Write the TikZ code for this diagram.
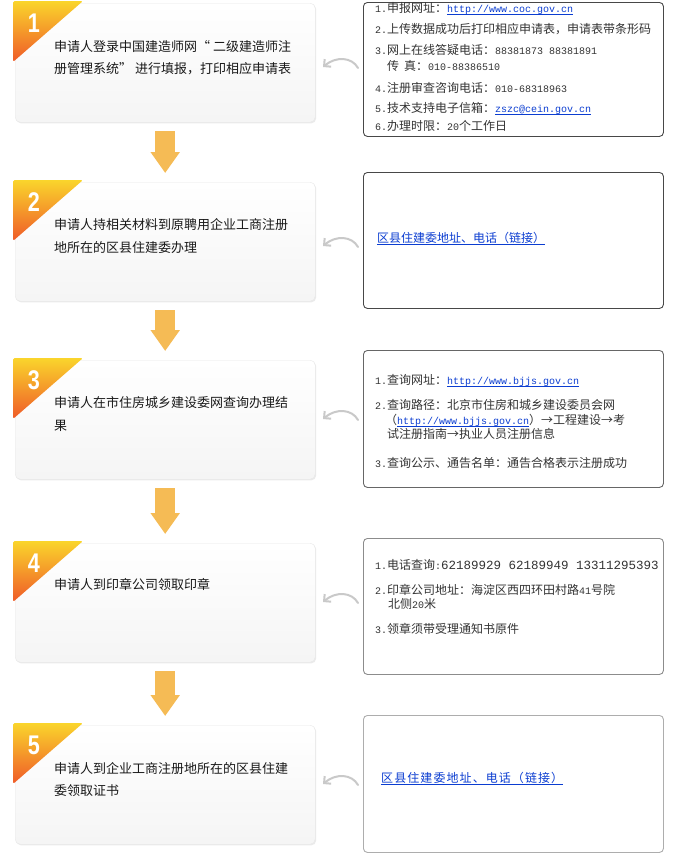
\documentclass[tikz,border=0pt]{standalone}
\usepackage{fontspec}
\setmainfont{Noto Sans CJK SC}
\setmonofont{Liberation Mono}
\newfontfamily\numfont{Liberation Sans}[FakeStretch=0.8]
\newfontfamily\cjkwide{Noto Sans CJK SC}[LetterSpace=9]
\usetikzlibrary{arrows.meta,shadows}
\definecolor{linkblue}{HTML}{0B3DD1}
\definecolor{txtgray}{HTML}{333333}
\definecolor{arrowor}{HTML}{F5BB55}
\definecolor{triTop}{HTML}{FAD52C}
\definecolor{triBot}{HTML}{EF5A28}
\definecolor{curvegray}{HTML}{C9C9C9}
\newcommand\m[1]{{\fontsize{10}{12}\ttfamily #1}}
\newcommand\myul[1]{\leavevmode\setbox0\hbox{#1}\rlap{\rule[-1.8pt]{\wd0}{0.7pt}}\box0}
\newcommand\lnk[1]{\textcolor{linkblue}{\myul{\m{#1}}}}
\newcommand\lnkc[1]{\textcolor{linkblue}{\myul{#1}}}
\tikzset{
  leftbox/.style={draw=gray!18, rounded corners=5pt, top color=white, bottom color=gray!8,
    minimum width=300pt, minimum height=119pt, anchor=north west, inner sep=0pt,
    drop shadow={shadow xshift=1pt, shadow yshift=-1.2pt, fill=gray!45, opacity=0.35}},
  tri/.style={top color=triTop, bottom color=triBot},
  numlbl/.style={text=white, font=\numfont\bfseries\fontsize{27}{27}\selectfont, inner sep=0pt},
  ltxt/.style={anchor=base west, inner sep=0pt, text=black!90, font=\fontsize{13}{15}\selectfont},
  rtxt/.style={anchor=base west, inner sep=0pt, text=txtgray, font=\fontsize{12}{14}\selectfont},
  rbox/.style={rounded corners=4pt, minimum width=300pt, anchor=north west, inner sep=0pt, fill=white, line width=0.9pt},
  dnarrow/.style={draw=arrowor, line width=20pt, -{Triangle[length=21pt,width=28pt]}},
  curvarrow/.style={draw=curvegray, line width=2pt, line cap=round, -{Straight Barb[length=5pt,width=10pt]}}
}
\begin{document}
\begin{tikzpicture}[x=1pt,y=-1pt]
\useasboundingbox[fill=white] (0,0) rectangle (680,855);

% ---------- left boxes ----------
\node[leftbox] (l1) at (15,3) {};
\node[leftbox] (l2) at (15,182) {};
\node[leftbox] (l3) at (15,360) {};
\node[leftbox] (l4) at (15,543) {};
\node[leftbox] (l5) at (15,725) {};

% triangles
\shade[tri, rounded corners=1.5pt] (13,1) -- (83,1) -- (13,62) -- cycle;
\shade[tri, rounded corners=1.5pt] (13,180) -- (83,180) -- (13,241) -- cycle;
\shade[tri, rounded corners=1.5pt] (13,358) -- (83,358) -- (13,419) -- cycle;
\shade[tri, rounded corners=1.5pt] (13,541) -- (83,541) -- (13,602) -- cycle;
\shade[tri, rounded corners=1.5pt] (13,723) -- (83,723) -- (13,784) -- cycle;

\node[numlbl] (n1) at (34,23) {1};
\node[numlbl] (n2) at (34,202) {2};
\node[numlbl] (n3) at (34,380) {3};
\node[numlbl] (n4) at (34,563) {4};
\node[numlbl] (n5) at (34,745) {5};

\node[ltxt] (t1a) at (54,51) {申请人登录中国建造师网“\hspace{3pt}二级建造师注};
\node[ltxt] (t1b) at (54,73) {册管理系统”\hspace{3pt}进行填报，打印相应申请表};
\node[ltxt] (t2a) at (54,229) {申请人持相关材料到原聘用企业工商注册};
\node[ltxt] (t2b) at (54,252) {地所在的区县住建委办理};
\node[ltxt] (t3a) at (54,407) {申请人在市住房城乡建设委网查询办理结};
\node[ltxt] (t3b) at (54,430) {果};
\node[ltxt] (t4a) at (54,589) {申请人到印章公司领取印章};
\node[ltxt] (t5a) at (54,773) {申请人到企业工商注册地所在的区县住建};
\node[ltxt] (t5b) at (54,795) {委领取证书};

% ---------- down arrows ----------
\draw[dnarrow] ([yshift=-9pt]l1.south) -- ([yshift=9pt]l2.north);
\draw[dnarrow] ([yshift=-9pt]l2.south) -- ([yshift=9pt]l3.north);
\draw[dnarrow] ([yshift=-9pt]l3.south) -- ([yshift=9pt]l4.north);
\draw[dnarrow] ([yshift=-9pt]l4.south) -- ([yshift=9pt]l5.north);

% ---------- right boxes ----------
\node[rbox, draw=black!72, minimum height=134pt] (r1) at (363,2) {};
\node[rbox, draw=black!72, minimum height=136pt] (r2) at (363,172) {};
\node[rbox, draw=black!60, minimum height=137pt] (r3) at (363,350) {};
\node[rbox, draw=black!45, minimum height=136pt] (r4) at (363,538) {};
\node[rbox, draw=black!32, minimum height=137pt] (r5) at (363,715) {};

% R1
\node[rtxt] (r1a) at (375,12.5) {\m{1.}申报网址：\lnk{http://www.coc.gov.cn}};
\node[rtxt] (r1b) at (375,33.5) {\m{2.}上传数据成功后打印相应申请表，申请表带条形码};
\node[rtxt] (r1c) at (375,54.5) {\m{3.}网上在线答疑电话：\m{88381873 88381891}};
\node[rtxt] (r1d) at (387,70.5) {传\hspace{5pt}真：\m{010-88386510}};
\node[rtxt] (r1e) at (375,92.5) {\m{4.}注册审查咨询电话：\m{010-68318963}};
\node[rtxt] (r1f) at (375,112.5) {\m{5.}技术支持电子信箱：\lnk{zszc@cein.gov.cn}};
\node[rtxt] (r1g) at (375,130.5) {\m{6.}办理时限：\m{20}个工作日};
% R2
\node[rtxt] (r2a) at (377,242.5) {\lnkc{区县住建委地址、电话（链接）}};
% R3
\node[rtxt] (r3a) at (375,384.5) {\m{1.}查询网址：\lnk{http://www.bjjs.gov.cn}};
\node[rtxt] (r3b) at (375,409.5) {\m{2.}查询路径：北京市住房和城乡建设委员会网};
\node[rtxt] (r3c) at (385,424.5) {（\lnk{http://www.bjjs.gov.cn}）→工程建设→考};
\node[rtxt] (r3d) at (387,438.5) {试注册指南→执业人员注册信息};
\node[rtxt] (r3e) at (375,467.5) {\m{3.}查询公示、通告名单：通告合格表示注册成功};
% R4
\node[rtxt] (r4a) at (375,569.5) {\m{1.}电话查询\m{:}{\fontsize{12.5}{14}\ttfamily 62189929 62189949 13311295393}};
\node[rtxt] (r4b) at (375,594.5) {\m{2.}印章公司地址：海淀区西四环田村路\m{41}号院};
\node[rtxt] (r4c) at (388,608.5) {北侧\m{20}米};
\node[rtxt] (r4d) at (375,633.5) {\m{3.}领章须带受理通知书原件};
% R5
\node[rtxt] (r5a) at (381,782.5) {\lnkc{\cjkwide 区县住建委地址、电话（链接）}};

% ---------- curved arrows ----------
\coordinate (c1s) at (358,68);  \coordinate (c1e) at (323,67);
\coordinate (c2s) at (358,247); \coordinate (c2e) at (323,246);
\coordinate (c3s) at (358,420); \coordinate (c3e) at (323,419);
\coordinate (c4s) at (358,603); \coordinate (c4e) at (323,602);
\coordinate (c5s) at (358,785); \coordinate (c5e) at (323,784);
\draw[curvarrow] (c1s) .. controls +(-6,-11) and +(13,-11) .. (c1e);
\draw[curvarrow] (c2s) .. controls +(-6,-11) and +(13,-11) .. (c2e);
\draw[curvarrow] (c3s) .. controls +(-6,-11) and +(13,-11) .. (c3e);
\draw[curvarrow] (c4s) .. controls +(-6,-11) and +(13,-11) .. (c4e);
\draw[curvarrow] (c5s) .. controls +(-6,-11) and +(13,-11) .. (c5e);
\end{tikzpicture}
\end{document}
